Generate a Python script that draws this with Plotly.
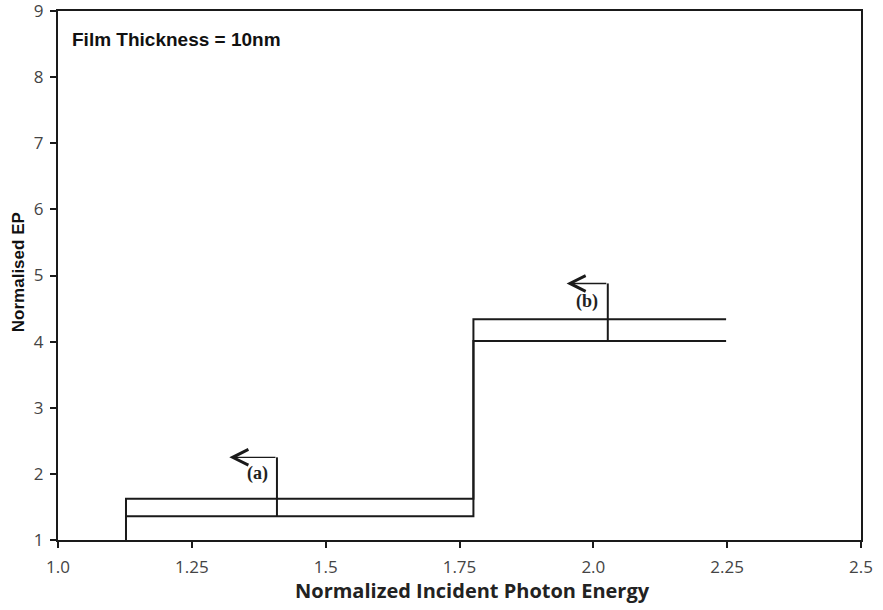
import plotly.graph_objects as go

# Step profiles of the normalised EP versus normalised photon energy
upper_x = [1.127, 1.127, 1.776, 1.776, 2.248]
upper_y = [1.0, 1.625, 1.625, 4.34, 4.34]
lower_x = [1.127, 1.776, 1.776, 2.248]
lower_y = [1.36, 1.36, 4.01, 4.01]

# Pointer arrows for curves (a) and (b): base on the curve, corner, tip
arrow_labels = ["(a)", "(b)"]
arrow_base_x = [1.409, 2.027]
arrow_base_y = [1.36, 4.01]
arrow_top_y = [2.25, 4.88]
arrow_tip_x = [1.32, 1.95]
label_x = [1.372, 1.988]
label_y = [2.0, 4.6]

x_ticks = [1.0, 1.25, 1.5, 1.75, 2.0, 2.25, 2.5]
x_tick_text = ["1.0", "1.25", "1.5", "1.75", "2.0", "2.25", "2.5"]
y_ticks = [1, 2, 3, 4, 5, 6, 7, 8, 9]

line_col = "#1a1a1a"

fig = go.Figure()
fig.add_trace(go.Scatter(x=upper_x, y=upper_y, mode="lines",
                         line=dict(color=line_col, width=2), showlegend=False))
fig.add_trace(go.Scatter(x=lower_x, y=lower_y, mode="lines",
                         line=dict(color=line_col, width=2), showlegend=False))

for i, lab in enumerate(arrow_labels):
    # vertical leg of the pointer
    fig.add_trace(go.Scatter(x=[arrow_base_x[i], arrow_base_x[i]],
                             y=[arrow_base_y[i], arrow_top_y[i]], mode="lines",
                             line=dict(color=line_col, width=2), showlegend=False))
    # horizontal leg with open arrowhead
    fig.add_annotation(x=arrow_tip_x[i], y=arrow_top_y[i],
                       ax=arrow_base_x[i], ay=arrow_top_y[i],
                       xref="x", yref="y", axref="x", ayref="y",
                       showarrow=True, arrowhead=5, arrowsize=2.2,
                       arrowwidth=1.4, arrowcolor=line_col, text="")
    fig.add_annotation(x=label_x[i], y=label_y[i], xref="x", yref="y",
                       text=f"<b>{lab}</b>", showarrow=False,
                       font=dict(family="Liberation Serif", size=18, color="#222"))

fig.add_annotation(x=0.015, y=0.969, xref="paper", yref="paper",
                   xanchor="left", yanchor="top", showarrow=False,
                   text="<b>Film Thickness = 10nm</b>",
                   font=dict(family="Liberation Sans", size=19, color="#111"))

# axis titles
fig.add_annotation(x=0.516, y=-0.095, xref="paper", yref="paper",
                   xanchor="center", yanchor="middle", showarrow=False,
                   text="<b>Normalized Incident Photon Energy</b>",
                   font=dict(family="Open Sans", size=20, color="#222"))
fig.add_annotation(x=-0.05, y=0.506, xref="paper", yref="paper",
                   xanchor="center", yanchor="middle", showarrow=False,
                   textangle=-90, text="<b>Normalised EP</b>",
                   font=dict(family="Liberation Sans", size=17, color="#111"))

fig.update_xaxes(range=[1.0, 2.5], tickvals=x_ticks, ticktext=x_tick_text,
                 showgrid=False, zeroline=False, showline=True, mirror=True,
                 linecolor=line_col, linewidth=2, ticks="outside", ticklen=6,
                 tickwidth=2, tickcolor=line_col, ticklabelstandoff=5,
                 automargin=False, ticklabeloverflow="allow",
                 tickfont=dict(family="Open Sans", size=17, color="#444"))
fig.update_yaxes(range=[1, 9], tickvals=y_ticks,
                 showgrid=False, zeroline=False, showline=True, mirror=True,
                 linecolor=line_col, linewidth=2, ticks="outside", ticklen=6,
                 tickwidth=2, tickcolor=line_col, ticklabelstandoff=3,
                 automargin=False, ticklabeloverflow="allow",
                 tickfont=dict(family="Open Sans", size=17, color="#444"))

fig.update_layout(width=883, height=610, plot_bgcolor="white", paper_bgcolor="white",
                  margin=dict(l=58, r=22, t=11, b=70))

fig.write_html("out.html")
